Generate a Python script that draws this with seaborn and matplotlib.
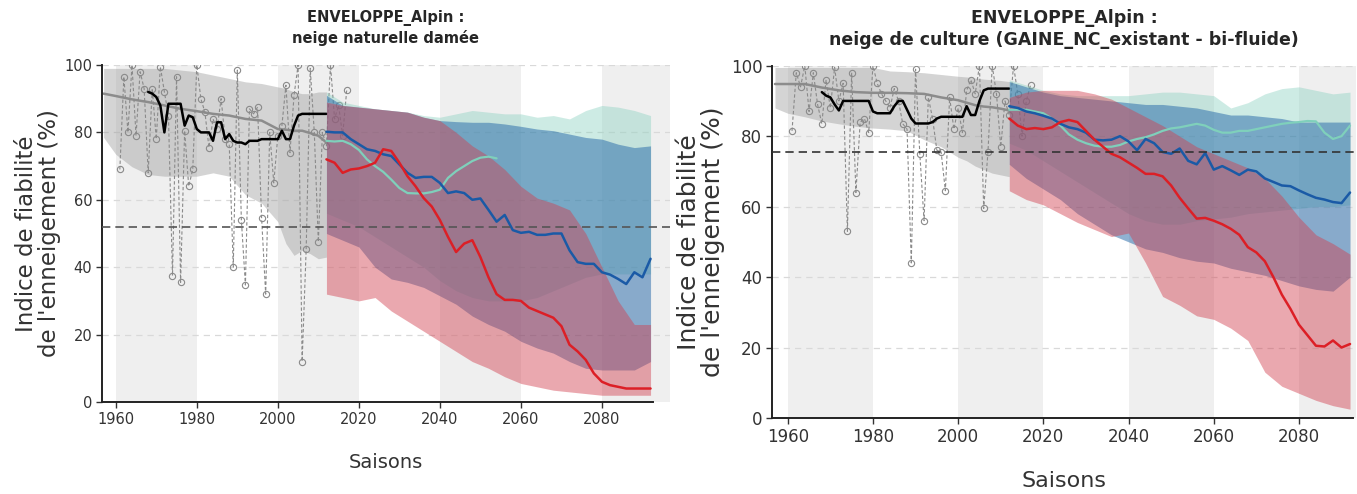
import numpy as np
import matplotlib
matplotlib.use("Agg")
import matplotlib.pyplot as plt
import seaborn as sns

# ---------------- DATA ----------------
titles = ["ENVELOPPE_Alpin :\nneige naturelle damée",
          "ENVELOPPE_Alpin :\nneige de culture (GAINE_NC_existant - bi-fluide)"]
ylabel = "Indice de fiabilité\nde l'enneigement (%)"
xlabel = "Saisons"
xticks = [1960, 1980, 2000, 2020, 2040, 2060, 2080]
yticks = [0, 20, 40, 60, 80, 100]
thresholds = [52, 75.4]

hist_years = [1957, 1960, 1964, 1968, 1972, 1976, 1980, 1984, 1988, 1992, 1996,
              2000, 2002, 2004, 2006, 2008, 2010, 2012]
L_gray_upper = [99, 99, 99, 99, 99, 98.5, 98, 97, 96, 95, 94.5, 93.5, 93, 92, 91.5, 91.5, 92, 92]
L_gray_lower = [78.5, 73.5, 69.8, 67.5, 67, 67, 67, 68, 67, 61.5, 59, 53.5, 47, 43.5, 45, 44, 42.5, 43]
L_gray_median = [91.5, 90.8, 89.8, 89, 88, 87, 86.3, 85.5, 85, 84, 83.5, 81, 80.8, 80.5, 80.5, 79.8, 79, 77]
R_gray_upper = [99.5, 99.5, 99.5, 99.5, 99.5, 99.5, 99.5, 98.5, 98.3, 98, 97.5, 97, 96.8, 96.5, 96.2, 96, 95.8, 95.5]
R_gray_lower = [88, 86.5, 85.5, 84.3, 83.5, 82.8, 82.3, 82, 81.5, 79, 77, 74, 73, 71.5, 70.5, 69.5, 69, 68.5]
R_gray_median = [94.8, 94.8, 94.8, 93.8, 93, 92.5, 92.3, 92.3, 92.2, 92, 91, 90.2, 89.5, 88.8, 88.4, 88.2, 87.8, 87.3]

black_years = list(range(1968, 2013))
L_black = [92, 91.5, 90.5, 88, 80, 88.5, 88.5, 88.5, 88.5, 82, 85, 84.5, 81, 80, 80, 80, 77.5,
           83, 83, 78, 79.5, 77.5, 77, 77, 76.5, 77.5, 77.5, 77.5, 78, 78, 78, 78, 78, 80.5,
           78, 78, 82, 85, 85.5, 85.5, 85.5, 85.5, 85.5, 85.5, 85.5]
R_black = [92.5, 91.5, 91, 89, 87.3, 90, 90, 90, 90, 90, 90, 90, 87, 86.5, 86.5, 86.5, 86.5,
           88.5, 90, 90, 87.5, 85, 83.6, 83.6, 83.6, 83.6, 84, 85, 85.5, 85.5, 85.5, 85.5,
           85.5, 85.5, 88.5, 86, 86, 90, 93, 93.5, 93.5, 93.5, 93.5, 93.5, 93.5]

obs_years = list(range(1961, 2018))
L_obs = [69, 96.5, 80, 100, 79, 98, 93, 68, 93, 78, 99.5, 92, 85, 37.5, 96.5, 35.5, 80.5, 64,
         69, 100, 90, 86, 75.5, 84, 81, 90, 78, 76.5, 40, 98.5, 54, 34.7, 87, 85.5, 87.5,
         54.5, 32, 80, 65, 79, 82, 94, 74, 91, 100, 12, 45.5, 99, 80, 47.5, 80, 76, 100,
         84, 88, 79, 92.5]
R_obs = [81.5, 98, 94, 100, 87, 98, 89, 83.5, 96, 88, 99.5, 90, 95, 53, 98, 64, 84, 85, 81,
         100, 95, 92, 90, 88, 93.5, 90, 83.5, 82, 44, 99, 75, 56, 91, 85, 76, 75.5, 64.5,
         91, 82, 88, 81, 93, 96, 92, 100, 59.5, 75.5, 100, 92, 77, 90, 86, 100, 92, 80,
         90, 94.5]

band_years = list(range(2012, 2093, 4))
L_teal_upper = [92, 89, 88, 87, 86.5, 86, 85, 84.5, 85.5, 86.5, 86, 85.5, 85.5, 84.5, 85, 84, 86.5, 88, 87.5, 86.5, 85]
L_teal_lower = [56, 54, 52, 49, 46, 43, 40, 36, 33, 31, 30, 30, 30, 31, 33, 35, 37, 38, 38, 38, 38]
L_blue_upper = [91, 88, 87.5, 87, 86.5, 86, 84.5, 83.5, 83.2, 83, 83, 82.5, 81.8, 81, 80.5, 79.5, 78.5, 78, 76.5, 75.5, 76]
L_blue_lower = [50, 48, 46, 40, 36.5, 35.5, 34, 31.5, 29, 25.5, 23, 21, 18, 16, 14.5, 12, 10, 9.5, 9.5, 9.5, 12]
L_red_upper = [89, 88, 87.5, 87, 86.5, 86, 84.5, 83.5, 80, 76, 73, 69, 64, 60.5, 59, 57, 50, 40, 30, 23, 23]
L_red_lower = [32, 31, 30, 31, 27, 24, 21, 18, 15, 12, 10, 7.5, 5.5, 4.5, 3.5, 3, 2.5, 2, 2, 2, 2]

R_teal_upper = [96, 94.5, 93, 92, 91.5, 91.5, 91.5, 91.5, 92, 92.5, 92.5, 92, 91.5, 88, 89.5, 92, 93.5, 94, 93, 92, 92.5]
R_teal_lower = [78, 76, 73, 70, 67, 64, 61, 58, 56, 55, 55, 56, 56.5, 57, 58, 58.5, 59, 59.5, 60, 60, 60.5]
R_blue_upper = [95.5, 94, 92.5, 91.5, 91, 90.5, 90, 89.5, 89, 89, 88.5, 88, 87, 86, 86, 85.5, 85, 84, 84, 84, 84]
R_blue_lower = [72, 68, 65, 62, 58, 55, 52, 50, 48, 47, 45.5, 44.5, 44, 42.5, 41.5, 40.5, 39, 37.5, 36.5, 36, 40]
R_red_upper = [91, 92.5, 93, 93, 93, 92, 90.5, 88, 85.5, 83, 80, 77, 75, 73, 71, 68, 63, 57, 52, 49.5, 46.5]
R_red_lower = [64.5, 62, 60.5, 58, 55.5, 53.5, 51.5, 52.5, 44, 34.5, 32, 29, 28, 25.5, 22, 13, 9, 7, 5, 3.5, 2.5]

line_years = list(range(2012, 2093, 2))
L_red_line = [72, 71, 68, 69, 69.3, 70, 71, 75, 74.5, 71, 67, 64, 60.5, 58, 54, 49, 44.5, 47, 48,
              43, 37, 32, 30.3, 30.3, 30, 28, 27, 26, 25, 22.5, 17, 15, 12.5, 8.5, 6, 5, 4.5, 4, 4, 4, 4]
L_blue_line = [80.2, 80, 80, 78, 76.5, 75, 74.5, 73.5, 73, 70.5, 68, 66.5, 66.8, 66.8, 65, 62, 62.5,
               62, 60, 60.4, 57, 53.5, 55.5, 51, 50.2, 50.5, 49.6, 49.6, 50, 50, 45, 41.5, 41, 41,
               38.5, 37.8, 36.5, 35, 38.5, 37, 42.5]
L_teal_years = list(range(2012, 2055, 2))
L_teal_line = [77.5, 77.3, 77.5, 76.5, 74.8, 72, 70, 68.3, 66, 63.5, 62, 61.9, 61.9, 62.3, 63, 66.5,
               68.5, 70, 71.5, 72.5, 72.8, 72.3]
R_red_line = [85, 83, 82, 82.3, 82, 82.5, 84, 84.6, 84, 81.5, 79, 77, 75, 74, 72.5, 71, 69.3, 69.3,
              68.6, 66, 62.5, 59.5, 56.6, 56.8, 56, 55, 53.7, 52, 48.5, 47, 44.5, 40, 35, 31, 26.5,
              23.5, 20.5, 20.3, 22, 20, 21]
R_blue_line = [88.5, 88, 87, 86.5, 85.8, 85, 83.5, 82.5, 82, 81, 79, 78.8, 79, 80, 78.5, 76, 79.2,
               78, 75.5, 75, 76.5, 73, 72, 75.2, 70.5, 71.5, 70.3, 69, 70.5, 70, 68, 67, 66, 65.8,
               64.6, 63.5, 62.5, 62, 61.3, 61, 64]
R_teal_line = [87.5, 87.5, 87.5, 87, 86.5, 85, 83, 80.5, 79, 78, 77.3, 77, 77, 77.5, 78.5, 79.2,
               79.7, 80.5, 81.5, 82.2, 82.5, 83, 83.5, 83, 81.8, 81, 81, 81.5, 81.5, 82, 82.5, 83,
               83.5, 83.8, 84, 84.3, 84.2, 81, 79.2, 80, 83]

# ---------------- STYLE ----------------
sns.set_theme(style="white")
plt.rcParams['font.family'] = ['DejaVu Sans']

C_TEAL_BAND, C_TEAL_LINE = "#84cfbd", "#7fd0bb"
C_BLUE_BAND, C_BLUE_LINE = "#2a6caa", "#1a5aa6"
C_RED_BAND, C_RED_LINE = "#d23f4e", "#dc1f26"
C_BG = "#efefef"

fig = plt.figure(figsize=(13.57, 4.94), dpi=100)
ax1 = fig.add_axes([102 / 1357, 92 / 494, 568 / 1357, 337 / 494])
ax2 = fig.add_axes([772 / 1357, 76 / 494, 584 / 1357, 352.3 / 494])

panels = [
    dict(ax=ax1, xlim=(1956.6, 2096.8), gu=L_gray_upper, gl=L_gray_lower, gm=L_gray_median,
         black=L_black, obs=L_obs, tu=L_teal_upper, tl=L_teal_lower, bu=L_blue_upper,
         bl=L_blue_lower, ru=L_red_upper, rl=L_red_lower, rline=L_red_line, bline=L_blue_line,
         tyears=L_teal_years, tline=L_teal_line, thr=thresholds[0], thrc="#555555",
         fs=10.5, tfs=10.5, yfs=16.5, xfs=14, lab_x=-0.072, xl_y=-0.15, title_pad=16),
    dict(ax=ax2, xlim=(1956.3, 2093.4), gu=R_gray_upper, gl=R_gray_lower, gm=R_gray_median,
         black=R_black, obs=R_obs, tu=R_teal_upper, tl=R_teal_lower, bu=R_blue_upper,
         bl=R_blue_lower, ru=R_red_upper, rl=R_red_lower, rline=R_red_line, bline=R_blue_line,
         tyears=line_years, tline=R_teal_line, thr=thresholds[1], thrc="#333333",
         fs=12, tfs=12.5, yfs=18, xfs=16, lab_x=-0.08, xl_y=-0.15, title_pad=15),
]

for i, p in enumerate(panels):
    ax = p["ax"]
    ax.set_xlim(*p["xlim"])
    ax.set_ylim(0, 100)
    # alternating background bands
    for start in range(1960, 2100, 40):
        ax.axvspan(start, start + 20, color=C_BG, lw=0, zorder=0)
    for y in [20, 40, 60, 80, 100]:
        ax.axhline(y, color="#d9d9d9", lw=0.9, ls=(0, (5, 4)), zorder=0.5)

    # historical envelope
    ax.fill_between(hist_years, p["gl"], p["gu"], color="#9a9a9a", alpha=0.42, lw=0, zorder=1)
    sns.lineplot(x=hist_years, y=p["gm"], ax=ax, color="#8c8c8c", lw=1.8, zorder=2)
    sns.lineplot(x=obs_years, y=p["obs"], ax=ax, color="#8a8a8a", lw=0.8, ls=(0, (3, 2)),
                 marker="o", markersize=4.5, markerfacecolor="none", markeredgecolor="#8a8a8a",
                 markeredgewidth=0.8, zorder=3)
    sns.lineplot(x=black_years, y=p["black"], ax=ax, color="black", lw=1.8, zorder=4)

    # projections
    ax.fill_between(band_years, p["tl"], p["tu"], color=C_TEAL_BAND, alpha=0.4, lw=0, zorder=5)
    ax.fill_between(band_years, p["bl"], p["bu"], color=C_BLUE_BAND, alpha=0.52, lw=0, zorder=6)
    ax.fill_between(band_years, p["rl"], p["ru"], color=C_RED_BAND, alpha=0.45, lw=0, zorder=7)
    sns.lineplot(x=p["tyears"], y=p["tline"], ax=ax, color=C_TEAL_LINE, lw=1.6, zorder=8)
    sns.lineplot(x=line_years, y=p["bline"], ax=ax, color=C_BLUE_LINE, lw=1.8, zorder=9)
    sns.lineplot(x=line_years, y=p["rline"], ax=ax, color=C_RED_LINE, lw=1.8, zorder=10)

    ax.axhline(p["thr"], color=p["thrc"], lw=1.2, ls=(0, (5, 3)), zorder=11)

    # axes cosmetics
    sns.despine(ax=ax)
    for s in ["left", "bottom"]:
        ax.spines[s].set_color("#222222")
        ax.spines[s].set_linewidth(1.4)
    ax.spines["bottom"].set_bounds(p["xlim"][0], 2092.6)
    ax.set_xticks(xticks)
    ax.set_yticks(yticks)
    ax.tick_params(axis="both", which="major", length=4, width=1, color="#333333",
                   labelsize=p["fs"], labelcolor="#333333", bottom=True, left=True, pad=3)
    ax.set_title(titles[i], fontsize=p["tfs"], fontweight="bold", linespacing=1.3,
                 pad=p["title_pad"])
    ax.set_ylabel(ylabel, fontsize=p["yfs"], color="#333333", linespacing=1.0)
    ax.set_xlabel(xlabel, fontsize=p["xfs"], color="#333333")
    ax.yaxis.set_label_coords(p["lab_x"], 0.5)
    ax.xaxis.set_label_coords(0.5, p["xl_y"])
    ax.grid(False)

fig.savefig("out.png", dpi=100)
